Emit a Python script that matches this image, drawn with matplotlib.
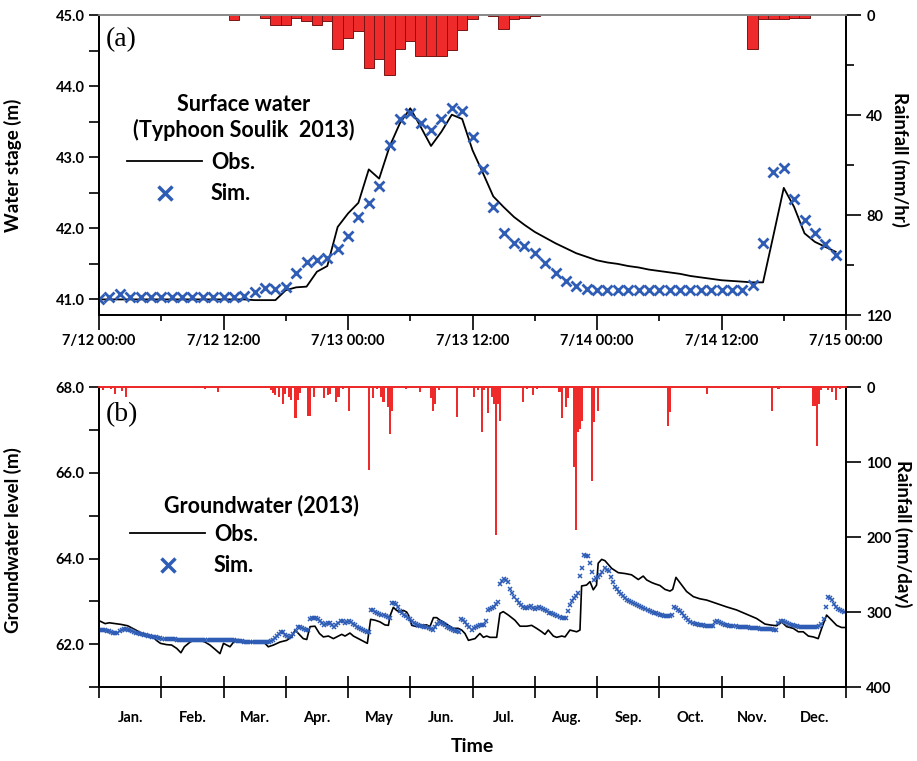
import matplotlib.pyplot as plt
from matplotlib.lines import Line2D
from matplotlib.ticker import MultipleLocator, FixedLocator, NullFormatter
import numpy as np

plt.rcParams['font.family'] = ['Lato', 'DejaVu Sans']
plt.rcParams['font.weight'] = 'bold'
plt.rcParams['axes.labelweight'] = 'bold'
plt.rcParams['axes.linewidth'] = 1.3

BLUE = '#2F5DB5'
RED = '#EE2A2A'

# ---- (a) surface water, hourly, 7/12 00:00 .. 7/14 23:00 ----
hours = list(range(72))
obs_top = [41.00, 41.00, 41.00, 41.00, 41.00, 41.00, 41.00, 41.00, 41.00, 41.00,
           41.00, 41.00, 41.00, 41.00, 41.00, 40.99, 40.99, 40.99, 41.13, 41.17,
           41.18, 41.39, 41.47, 42.02, 42.21, 42.36, 42.83, 42.70, 43.15, 43.48,
           43.69, 43.43, 43.16, 43.36, 43.60, 43.54, 43.10, 42.78, 42.45, 42.30,
           42.16, 42.05, 41.95, 41.87, 41.79, 41.72, 41.65, 41.60, 41.55, 41.52,
           41.50, 41.47, 41.45, 41.42, 41.40, 41.38, 41.36, 41.33, 41.31, 41.29,
           41.27, 41.26, 41.25, 41.24, 41.24, 41.90, 42.57, 42.30, 41.93, 41.81,
           41.74, 41.67]
sim_top = [41.01, 41.03, 41.07, 41.04, 41.03, 41.03, 41.03, 41.03, 41.03, 41.03,
           41.03, 41.03, 41.03, 41.03, 41.05, 41.11, 41.16, 41.15, 41.18, 41.37,
           41.52, 41.55, 41.59, 41.71, 41.89, 42.16, 42.36, 42.59, 43.17, 43.54,
           43.63, 43.49, 43.38, 43.54, 43.70, 43.65, 43.28, 42.84, 42.30, 41.94,
           41.79, 41.75, 41.66, 41.51, 41.37, 41.26, 41.19, 41.15, 41.13, 41.13,
           41.13, 41.13, 41.13, 41.13, 41.13, 41.13, 41.13, 41.13, 41.13, 41.13,
           41.13, 41.13, 41.13, 41.20, 41.79, 42.79, 42.85, 42.41, 42.12, 41.93,
           41.78, 41.63]
rain_hr = [13, 16, 17, 18, 19, 20, 21, 22, 23, 24, 25, 26, 27, 28, 29, 30, 31,
           32, 33, 34, 35, 36, 38, 39, 40, 41, 42, 63, 64, 65, 66, 67, 68]
rain_mm = [2.0, 1.0, 3.9, 3.9, 1.0, 2.5, 3.9, 2.5, 13.5, 9.3, 6.5, 21.3, 17.7,
           23.9, 13.5, 10.5, 16.4, 16.4, 16.4, 14.0, 6.0, 1.5, 0.4, 5.6, 1.6,
           1.0, 0.4, 13.5, 1.6, 1.6, 1.6, 1.0, 1.0]
time_labels = ['7/12 00:00', '7/12 12:00', '7/13 00:00', '7/13 12:00',
               '7/14 00:00', '7/14 12:00', '7/15 00:00']

# ---- (b) groundwater 2013, day of year ----
obs_gw_day = [0, 3, 5, 8, 11, 14, 16, 18, 21, 24, 26.5, 28, 30, 33, 35.5, 38, 40,
              41.7, 44.5, 47, 49.4, 51.8, 54.2, 56.7, 59.1, 60.8, 62.4, 64, 66.4,
              68.1, 70.5, 74.6, 79.5, 81.1, 82.7, 85.2, 88.4, 91.7, 94.1, 95.8,
              97.4, 99.8, 101.5, 103.1, 105.5, 107.7, 109.6, 112.1, 114.5, 117,
              118.6, 120.2, 122.6, 124.3, 127.5, 130, 131.1, 132.7, 134.9, 137.3,
              139.7, 141.4, 142.2, 143.8, 145.4, 147.1, 148.7, 150.3, 151.2, 152.8,
              155.2, 156.8, 160.1, 161.7, 163.4, 165, 166.6, 168.2, 170.7, 173.1,
              175.5, 177.2, 178.8, 180.5, 183.7, 186.1, 187.8, 189.4, 191, 194.3,
              195.9, 197.5, 200, 203.2, 205.7, 209, 211.4, 213.8, 216.3, 217.9,
              219.5, 222, 223.6, 226.1, 227.7, 230.1, 233.4, 235, 235.8, 238.2,
              239.9, 241.5, 243.1, 243.9, 245.6, 247.2, 250.5, 253.7, 257, 260.2,
              263.5, 265.9, 267.6, 270, 271.6, 274.1, 276.5, 279, 280.3, 281.9,
              284.7, 287.1, 290.4, 293.6, 296.9, 301.8, 306.7, 311.5, 316.4, 321.3,
              325.4, 327.8, 331.1, 333.5, 336, 339.2, 341.7, 344.1, 346.6, 349,
              351.4, 353.1, 355.5, 358, 360.4, 362.8, 364.5]
obs_gw = [62.55, 62.48, 62.50, 62.48, 62.46, 62.43, 62.38, 62.33, 62.25, 62.19,
          62.17, 62.09, 62.02, 61.99, 61.98, 61.90, 61.80, 61.94, 62.05, 62.11,
          62.09, 62.05, 61.98, 61.88, 61.78, 62.02, 61.98, 61.94, 62.09, 62.11,
          62.05, 62.05, 62.05, 62.02, 61.94, 61.98, 62.05, 62.09, 62.17, 62.33,
          62.25, 62.13, 62.11, 62.41, 62.42, 62.25, 62.17, 62.19, 62.13, 62.19,
          62.23, 62.19, 62.26, 62.19, 62.11, 62.05, 62.02, 62.58, 62.56, 62.52,
          62.45, 62.44, 62.66, 62.86, 62.79, 62.75, 62.79, 62.75, 62.68, 62.44,
          62.41, 62.44, 62.45, 62.41, 62.62, 62.62, 62.56, 62.52, 62.44, 62.37,
          62.37, 62.33, 62.25, 62.09, 62.13, 62.25, 62.16, 62.19, 62.16, 62.16,
          62.72, 62.76, 62.68, 62.56, 62.42, 62.42, 62.44, 62.37, 62.29, 62.23,
          62.33, 62.19, 62.16, 62.19, 62.17, 62.33, 62.29, 62.33, 63.36, 63.38,
          63.46, 63.27, 63.38, 63.89, 63.98, 63.95, 63.77, 63.67, 63.65, 63.62,
          63.51, 63.59, 63.50, 63.44, 63.41, 63.37, 63.28, 63.24, 63.28, 63.56,
          63.38, 63.23, 63.11, 63.06, 63.03, 62.95, 62.87, 62.80, 62.70, 62.60,
          62.47, 62.45, 62.43, 62.52, 62.41, 62.37, 62.29, 62.29, 62.19, 62.17,
          62.13, 62.37, 62.68, 62.56, 62.44, 62.39, 62.39]
sim_gw = [
    62.33, 62.32, 62.32, 62.32, 62.31, 62.30, 62.28, 62.26, 62.25, 62.27,
    62.31, 62.34, 62.35, 62.35, 62.34, 62.32, 62.30, 62.29, 62.27, 62.26,
    62.24, 62.23, 62.22, 62.21, 62.20, 62.19, 62.17, 62.17, 62.16, 62.15,
    62.14, 62.13, 62.13, 62.12, 62.12, 62.12, 62.11, 62.11, 62.10, 62.10,
    62.10, 62.10, 62.10, 62.09, 62.09, 62.09, 62.09, 62.09, 62.09, 62.09,
    62.09, 62.09, 62.09, 62.09, 62.09, 62.09, 62.10, 62.10, 62.10, 62.10,
    62.10, 62.10, 62.10, 62.09, 62.09, 62.09, 62.09, 62.08, 62.08, 62.07,
    62.07, 62.06, 62.06, 62.05, 62.05, 62.05, 62.05, 62.04, 62.04, 62.04,
    62.04, 62.05, 62.05, 62.06, 62.08, 62.10, 62.14, 62.19, 62.24, 62.28,
    62.28, 62.22, 62.18, 62.17, 62.19, 62.23, 62.30, 62.40, 62.39, 62.37,
    62.35, 62.33, 62.34, 62.58, 62.61, 62.62, 62.60, 62.58, 62.55, 62.50,
    62.45, 62.46, 62.49, 62.50, 62.45, 62.41, 62.45, 62.50, 62.55, 62.53,
    62.49, 62.52, 62.55, 62.52, 62.48, 62.44, 62.41, 62.38, 62.35, 62.32,
    62.30, 62.29, 62.29, 62.80, 62.79, 62.76, 62.74, 62.71, 62.69, 62.67,
    62.65, 62.63, 62.62, 62.97, 62.96, 62.94, 62.86, 62.78, 62.72, 62.68,
    62.66, 62.62, 62.58, 62.55, 62.50, 62.47, 62.45, 62.43, 62.42, 62.40,
    62.39, 62.37, 62.35, 62.34, 62.40, 62.48, 62.52, 62.50, 62.47, 62.45,
    62.41, 62.38, 62.35, 62.33, 62.31, 62.30, 62.29, 62.58, 62.56, 62.52,
    62.44, 62.40, 62.34, 62.38, 62.39, 62.42, 62.44, 62.45, 62.44, 62.55,
    62.80, 62.82, 62.85, 62.88, 62.94, 62.99, 63.40, 63.48, 63.52, 63.50,
    63.46, 63.30, 63.19, 63.10, 63.03, 62.96, 62.91, 62.88, 62.85, 62.84,
    62.87, 62.89, 62.85, 62.82, 62.84, 62.86, 62.84, 62.82, 62.80, 62.77,
    62.74, 62.72, 62.70, 62.68, 62.66, 62.63, 62.62, 62.61, 62.60, 62.78,
    62.92, 63.00, 63.08, 63.13, 63.20, 63.60, 63.77, 64.08, 64.07, 64.06,
    63.90, 63.69, 63.50, 63.55, 63.58, 63.62, 63.68, 63.77, 63.74, 63.70,
    63.58, 63.45, 63.34, 63.28, 63.22, 63.17, 63.12, 63.07, 63.04, 63.01,
    62.99, 62.96, 62.94, 62.91, 62.89, 62.87, 62.85, 62.83, 62.80, 62.77,
    62.76, 62.73, 62.72, 62.70, 62.68, 62.67, 62.66, 62.66, 62.66, 62.66,
    62.67, 62.87, 62.84, 62.80, 62.77, 62.72, 62.66, 62.60, 62.56, 62.52,
    62.49, 62.47, 62.46, 62.45, 62.44, 62.44, 62.43, 62.43, 62.42, 62.42,
    62.42, 62.52, 62.55, 62.52, 62.50, 62.47, 62.45, 62.44, 62.43, 62.43,
    62.42, 62.42, 62.41, 62.41, 62.40, 62.40, 62.39, 62.39, 62.38, 62.38,
    62.37, 62.37, 62.37, 62.36, 62.36, 62.36, 62.36, 62.35, 62.35, 62.35,
    62.34, 62.34, 62.50, 62.55, 62.54, 62.52, 62.50, 62.47, 62.45, 62.44,
    62.43, 62.42, 62.41, 62.41, 62.40, 62.40, 62.39, 62.39, 62.39, 62.39,
    62.39, 62.40, 62.42, 62.47, 62.58, 62.87, 63.11, 63.08, 63.03, 62.95,
    62.87, 62.83, 62.80, 62.78, 62.76]
rain_day = [2, 6, 8, 11, 13, 37, 52, 58, 60, 79, 84, 85, 86, 88, 90, 91, 93, 94,
            96, 97, 98, 102, 103, 105, 110, 112, 113, 116, 117, 119, 122, 132,
            134, 136, 138, 139, 141, 142, 143, 150, 157, 162, 163, 164, 166, 175,
            183, 185, 187, 188, 190, 192, 193, 194, 195, 196, 205, 207, 209, 212,
            214, 225, 226, 228, 229, 232, 233, 234, 235, 236, 237, 241, 242, 244,
            278, 279, 297, 305, 329, 332, 343, 349, 350, 351, 352, 353, 356, 358,
            360, 362]
rain_day_mm = [3.6, 3.0, 9.0, 4.7, 12.6, 1.0, 2.0, 6.7, 1.0, 1.0, 4.3, 8.0, 10.4,
               13.6, 22.4, 9.0, 13.6, 17.0, 41.0, 17.0, 8.0, 38.0, 38.0, 13.6,
               15.0, 10.0, 9.0, 20.0, 13.0, 2.0, 32.0, 110.0, 15.0, 2.0, 13.0,
               20.0, 27.0, 63.0, 32.0, 3.0, 7.0, 15.0, 32.0, 22.0, 4.0, 39.5,
               13.0, 4.0, 60.0, 4.0, 35.0, 13.0, 22.0, 197.0, 22.0, 45.0, 1.0,
               20.0, 2.0, 10.0, 2.0, 6.0, 41.0, 27.0, 15.0, 107.0, 191.0, 60.0,
               56.0, 45.0, 1.0, 125.0, 47.0, 32.0, 51.5, 33.0, 9.0, 1.0, 32.0,
               2.0, 1.0, 24.6, 24.6, 78.0, 22.0, 4.0, 4.0, 6.0, 17.0, 2.0]
months = ['Jan.', 'Feb.', 'Mar.', 'Apr.', 'May', 'Jun.', 'Jul.', 'Aug.',
          'Sep.', 'Oct.', 'Nov.', 'Dec.']

TICK_FS = 10.5
LAB_FS = 13.5
LEG_FS = 15.5

fig = plt.figure(figsize=(9.17, 7.61), dpi=100)

# ================= panel (a) =================
ax1 = fig.add_axes([0.108, 0.586, 0.8146, 0.394])
ax1r = ax1.twinx()
ax1.set_zorder(ax1r.get_zorder() + 1)
ax1.patch.set_visible(False)

ax1r.bar(rain_hr, rain_mm, width=1.0, color=RED, edgecolor='#7A1515', linewidth=0.7)
ax1r.set_ylim(120, 0)
ax1r.yaxis.set_major_locator(MultipleLocator(40))
ax1r.yaxis.set_minor_locator(MultipleLocator(20))
ax1r.tick_params(axis='y', which='major', length=11, width=1.2, labelsize=TICK_FS)
ax1r.tick_params(axis='y', which='minor', length=5.5, width=1.2)
ax1r.set_ylabel('Rainfall (mm/hr)', fontsize=LAB_FS, rotation=270, va='center')
ax1r.yaxis.set_label_coords(1.072, 0.52)

ax1.plot(hours, obs_top, color='black', lw=1.3)
ax1.plot(hours, sim_top, 'x', color=BLUE, ms=7, mew=2)
ax1.set_xlim(0, 72)
ax1.set_ylim(40.78, 45.0)
ax1.xaxis.set_minor_locator(MultipleLocator(6))
ax1.set_xticks(range(0, 73, 12))
ax1.set_xticklabels(time_labels)
ax1.yaxis.set_major_locator(MultipleLocator(1))
ax1.yaxis.set_minor_locator(MultipleLocator(0.5))
ax1.yaxis.set_major_formatter('{x:.1f}')
ax1.tick_params(axis='x', which='major', length=11, width=1.2, pad=3, labelsize=TICK_FS)
ax1.tick_params(axis='x', which='minor', length=4.5, width=1.2)
ax1.tick_params(axis='y', which='major', length=7, width=1.2, labelsize=TICK_FS)
ax1.tick_params(axis='y', which='minor', length=7, width=1.2)
ax1.set_ylabel('Water stage (m)', fontsize=LAB_FS)
ax1.yaxis.set_label_coords(-0.103, 0.5)
for a in (ax1, ax1r):
    a.spines['top'].set_color('#8a8a8a')

ax1.text(0.009, 0.917, '(a)', transform=ax1.transAxes, fontsize=20,
         family='Liberation Serif', fontweight='normal', va='center', ha='left')
ax1.text(0.1935, 0.66, 'Surface water\n(Typhoon Soulik  2013)', transform=ax1.transAxes,
         fontsize=LEG_FS, ha='center', va='center', linespacing=1.2)
h_obs = Line2D([], [], color='black', lw=1.3)
h_sim = Line2D([], [], ls='none', marker='x', color=BLUE, ms=10, mew=2.5)
ax1.legend([h_obs, h_sim], ['Obs.', 'Sim.'], loc='upper left',
           bbox_to_anchor=(0.0375, 0.545), frameon=False, fontsize=LEG_FS,
           handlelength=3.5, handletextpad=0.4, labelspacing=0.5,
           borderpad=0, borderaxespad=0)

# ================= panel (b) =================
ax2 = fig.add_axes([0.108, 0.0972, 0.8146, 0.394])
ax2r = ax2.twinx()
ax2.set_zorder(ax2r.get_zorder() + 1)
ax2.patch.set_visible(False)

ax2r.bar(rain_day, rain_day_mm, width=1.0, color=RED, linewidth=0)
ax2r.set_ylim(400, 0)
ax2r.yaxis.set_major_locator(MultipleLocator(100))
ax2r.tick_params(axis='y', which='major', length=11, width=1.2, labelsize=TICK_FS)
ax2r.set_ylabel('Rainfall (mm/day)', fontsize=LAB_FS, rotation=270, va='center')
ax2r.yaxis.set_label_coords(1.076, 0.51)

ax2.plot(obs_gw_day, obs_gw, color='black', lw=1.2)
ax2.plot(range(len(sim_gw)), sim_gw, 'x', color=BLUE, ms=3.2, mew=1.1)
ax2.set_xlim(0, 365)
ax2.set_ylim(61.0, 68.0)
edges = np.linspace(0, 365, 13)
ax2.xaxis.set_major_locator(FixedLocator(edges))
ax2.xaxis.set_major_formatter(NullFormatter())
ax2.xaxis.set_minor_locator(FixedLocator((edges[:-1] + edges[1:]) / 2))
ax2.set_xticklabels(months, minor=True)
ax2.tick_params(axis='x', which='major', direction='inout', length=16, width=1.2)
ax2.tick_params(axis='x', which='minor', length=0, pad=17, labelsize=TICK_FS)
ax2.yaxis.set_major_locator(MultipleLocator(2))
ax2.yaxis.set_minor_locator(MultipleLocator(1))
ax2.yaxis.set_major_formatter('{x:.1f}')
ax2.tick_params(axis='y', which='major', length=7, width=1.2, labelsize=TICK_FS)
ax2.tick_params(axis='y', which='minor', length=7, width=1.2)
ax2.set_ylabel('Groundwater level (m)', fontsize=LAB_FS)
ax2.yaxis.set_label_coords(-0.103, 0.49)
ax2.set_xlabel('Time', fontsize=14, va='center')
ax2.xaxis.set_label_coords(0.5, -0.2)
for a in (ax2, ax2r):
    a.spines['top'].set_color(RED)

ax2.text(0.009, 0.907, '(b)', transform=ax2.transAxes, fontsize=20,
         family='Liberation Serif', fontweight='normal', va='center', ha='left')
ax2.text(0.218, 0.607, 'Groundwater (2013)', transform=ax2.transAxes,
         fontsize=LEG_FS, ha='center', va='center')
ax2.legend([h_obs, h_sim], ['Obs.', 'Sim.'], loc='upper left',
           bbox_to_anchor=(0.0415, 0.545), frameon=False, fontsize=LEG_FS,
           handlelength=3.5, handletextpad=0.4, labelspacing=0.5,
           borderpad=0, borderaxespad=0)

fig.savefig('out.png', dpi=100)
